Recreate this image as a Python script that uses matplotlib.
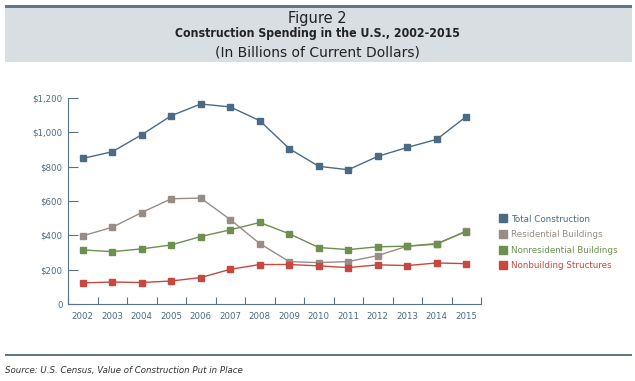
"""Figure 2 - Construction spending in the U.S., 2002-2015."""
import matplotlib
matplotlib.use("Agg")
import matplotlib.pyplot as plt
from matplotlib.patches import Rectangle
from matplotlib.lines import Line2D
from matplotlib.ticker import FuncFormatter, MultipleLocator

years = list(range(2002, 2016))
total = [848, 887, 986, 1097, 1165, 1148, 1068, 905, 802, 782, 860, 912, 959, 1092]
residential = [397, 447, 533, 613, 617, 492, 352, 247, 241, 247, 282, 337, 348, 426]
nonresidential = [315, 305, 321, 344, 393, 432, 475, 409, 329, 317, 333, 337, 352, 422]
nonbuilding = [123, 128, 125, 134, 154, 202, 230, 230, 222, 212, 228, 224, 239, 235]

series_names = ["Total Construction", "Residential Buildings",
                "Nonresidential Buildings", "Nonbuilding Structures"]
colors = ["#4b6a84", "#988d86", "#6d8f4f", "#c8473f"]
AXIS_COLOR = "#5a7186"
TEXT_COLOR = "#4b6a84"

plt.rcParams["font.family"] = ["DejaVu Sans"]

fig = plt.figure(figsize=(6.35, 3.81), dpi=100)
W, H = 635, 381

# header band
fig.patches.append(Rectangle((5 / W, 1 - 62 / H), 627 / W, 57 / H,
                             transform=fig.transFigure, facecolor="#d9dee3",
                             edgecolor="none", zorder=0))
fig.patches.append(Rectangle((5 / W, 1 - 7.5 / H), 627 / W, 2.5 / H,
                             transform=fig.transFigure, facecolor="#5f7889",
                             edgecolor="none", zorder=1))
fig.text(0.5, 1 - 18 / H, "Figure 2", ha="center", va="center",
         fontsize=10.5, color="#222222")
fig.text(0.5, 1 - 34 / H, "Construction Spending in the U.S., 2002-2015",
         ha="center", va="center", fontsize=8.8, fontweight="bold",
         fontstretch="condensed", color="#222222")
fig.text(0.5, 1 - 52 / H, "(In Billions of Current Dollars)", ha="center",
         va="center", fontsize=10, color="#222222")

# bottom rule and source
fig.patches.append(Rectangle((5 / W, 1 - 356 / H), 627 / W, 2.5 / H,
                             transform=fig.transFigure, facecolor="#5f7889",
                             edgecolor="none"))
fig.text(5 / W, 1 - 370 / H, "Source: U.S. Census, Value of Construction Put in Place",
         ha="left", va="center", fontsize=6.2, style="italic", color="#333333")

ax = fig.add_axes([68 / W, 1 - 304 / H, 413 / W, 206 / H])
data = [total, residential, nonresidential, nonbuilding]
for vals, c in zip(data, colors):
    ax.plot(years, vals, color=c, lw=1.0, marker="s", markersize=4,
            markerfacecolor=c, markeredgecolor=c)

ax.set_xlim(2001.5, 2015.5)
ax.set_ylim(0, 1200)
ax.yaxis.set_major_locator(MultipleLocator(200))
ax.yaxis.set_major_formatter(FuncFormatter(
    lambda v, p: "0" if v == 0 else f"${v:,.0f}"))
ax.set_xticks(years)
ax.set_xticks([y + 0.5 for y in years[:-1]] + [2001.5, 2015.5], minor=True)
ax.tick_params(axis="x", which="major", length=0, pad=6, labelsize=6.2,
               labelcolor=TEXT_COLOR)
ax.tick_params(axis="x", which="minor", direction="in", length=5,
               color=AXIS_COLOR, width=0.8)
ax.tick_params(axis="y", direction="in", length=7, color=AXIS_COLOR, width=0.8,
               labelsize=6.2, labelcolor=TEXT_COLOR, pad=4)
for s in ["top", "right"]:
    ax.spines[s].set_visible(False)
for s in ["left", "bottom"]:
    ax.spines[s].set_color(AXIS_COLOR)
    ax.spines[s].set_linewidth(0.8)

handles = [Line2D([], [], marker="s", linestyle="none", markersize=6,
                  markerfacecolor=c, markeredgecolor=c) for c in colors]
leg = fig.legend(handles, series_names, loc="upper left",
                 bbox_to_anchor=(494 / W, 1 - 211 / H), frameon=False,
                 fontsize=6.3, handletextpad=0.35, labelspacing=0.75,
                 handlelength=1.2, borderaxespad=0)
for t, c in zip(leg.get_texts(), colors):
    t.set_color(c)

fig.savefig("out.png", dpi=100, facecolor="white")
